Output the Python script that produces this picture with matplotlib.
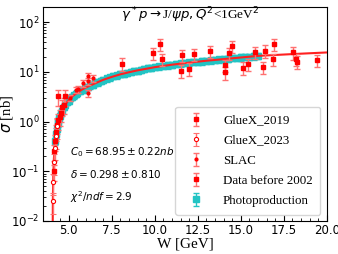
import numpy as np
import matplotlib.pyplot as plt
from matplotlib.ticker import AutoMinorLocator

plt.rcParams["mathtext.fontset"] = "dejavusans"

# fit curve
fit_w = [4.07, 4.08, 4.10, 4.13, 4.17, 4.2, 4.3, 4.4, 4.5, 4.6, 4.8, 5.0, 5.25, 5.5, 5.75,
         6.0, 6.5, 7.0, 7.5, 8.0, 8.5, 9.0, 9.5, 10, 11, 12, 13, 14, 15, 16, 17, 18, 19, 20]
fit_sigma = [0.01, 0.03, 0.08, 0.16, 0.28, 0.42, 0.75, 1.05, 1.35, 1.65, 2.2, 2.7, 3.3, 3.8, 4.35,
             4.85, 5.8, 6.9, 7.9, 8.9, 9.8, 10.7, 11.5, 12.4, 13.9, 15.3, 16.7, 18.0, 19.4, 20.9,
             21.8, 22.7, 23.6, 24.5]

# photoproduction
photo_w = [4.2, 4.25, 4.3, 4.35, 4.4, 4.45, 4.5, 4.55, 4.6, 4.7, 4.8, 4.9, 5.0, 5.1, 5.2, 5.3,
           5.4, 5.5, 5.65, 5.8, 5.95, 6.1, 6.25, 6.4, 6.55, 6.7, 6.85, 7.0, 7.2, 7.4, 7.6, 7.8,
           8.0, 8.2, 8.4, 8.6, 8.8, 9.0, 9.2, 9.4, 9.6, 9.8, 10.0, 10.25, 10.5, 10.75, 11.0,
           11.25, 11.5, 11.75, 12.0, 12.25, 12.5, 12.75, 13.0, 13.25, 13.5, 13.75, 14.0, 14.25,
           14.5, 14.75, 15.0, 15.25, 15.5, 15.75, 16.0]
photo_sigma = [0.40, 0.55, 0.72, 0.92, 1.02, 1.20, 1.32, 1.50, 1.62, 1.95, 2.15, 2.50, 2.62,
               2.95, 3.15, 3.35, 3.62, 3.75, 4.15, 4.40, 4.80, 4.95, 5.35, 5.55, 5.95, 6.15,
               6.60, 6.85, 7.35, 7.70, 8.20, 8.45, 8.95, 9.20, 9.65, 9.90, 10.4, 10.6, 11.1,
               11.3, 11.8, 12.0, 12.5, 12.8, 13.3, 13.5, 14.0, 14.2, 14.7, 14.9, 15.4, 15.6,
               16.1, 16.3, 16.8, 17.0, 17.5, 17.7, 18.2, 18.4, 18.9, 19.1, 19.6, 19.8, 20.3,
               20.5, 21.0]

gluex19_w = [4.12, 4.17, 4.22, 4.27, 4.33, 4.36, 4.40, 4.47, 4.55, 4.63, 4.72, 4.80]
gluex19_sigma = [0.10, 0.25, 0.40, 0.62, 0.85, 3.2, 1.05, 1.25, 1.5, 2.0, 2.2, 3.2]

gluex23_w = [4.08, 4.11, 4.15, 4.19, 4.24, 4.30]
gluex23_sigma = [0.025, 0.06, 0.15, 0.3, 0.5, 0.8]

slac_w = [5.1, 5.4, 5.55, 5.83, 6.12, 6.14, 6.14, 6.43]
slac_sigma = [3.0, 4.4, 4.5, 5.9, 6.4, 8.1, 3.7, 7.4]

old_w = [8.1, 9.88, 10.3, 10.4, 11.5, 11.6, 11.97, 12.26, 13.22, 14.1, 14.1, 14.3, 14.5,
         15.15, 15.4, 15.8, 16.3, 16.4, 16.85, 16.9, 18.02, 18.2, 18.27, 19.4]
old_sigma = [14.5, 23.6, 36, 18.2, 10.6, 21.9, 11.6, 22.6, 26.3, 13.8, 9.7, 23.6, 33,
             12.2, 14.2, 24.8, 12.4, 26.7, 17.9, 36, 24.5, 17.9, 16.1, 17.4]

fig = plt.figure(figsize=(3.38, 2.54), dpi=100)
ax = fig.add_axes([0.127, 0.13, 0.84, 0.842])

ebar = dict(ecolor="#ff7070", capsize=2, elinewidth=1, capthick=1, ls="none")

ax.plot(fit_w, fit_sigma, color="#ff2020", lw=1.5, zorder=3)

g19 = np.array(gluex19_sigma)
ax.errorbar(gluex19_w, gluex19_sigma, yerr=0.35 * g19, fmt="s", color="red", ms=2.5,
            label="GlueX_2019", zorder=4, **ebar)
g23 = np.array(gluex23_sigma)
ax.errorbar(gluex23_w, gluex23_sigma, yerr=0.45 * g23, fmt="o", color="red", ms=3,
            mfc="white", mew=0.8, label="GlueX_2023", zorder=4, **ebar)
sl = np.array(slac_sigma)
ax.errorbar(slac_w, slac_sigma, yerr=0.15 * sl, fmt="o", color="red", ms=2,
            label="SLAC", zorder=4, **ebar)
od = np.array(old_sigma)
ax.errorbar(old_w, old_sigma, yerr=0.28 * od, fmt="s", color="red", ms=3,
            label="Data before 2002", zorder=4, **ebar)
ph = np.array(photo_sigma)
ax.errorbar(photo_w, photo_sigma, yerr=0.14 * ph, fmt="s", color="#22c4c4", ms=4,
            ecolor="#22c4c4", capsize=2, elinewidth=1, ls="none",
            label="Photoproduction", zorder=2)

ax.set_yscale("log")
ax.set_xlim(3.5, 20)
ax.set_ylim(0.01, 200)
ax.xaxis.set_minor_locator(AutoMinorLocator(5))
ax.tick_params(which="both", direction="in", labelsize=8.5)
ax.tick_params(which="major", length=4, pad=2.5)
ax.tick_params(which="minor", length=2)

ax.set_xlabel("W [GeV]", family="Liberation Serif", fontsize=11, labelpad=0)
ax.set_ylabel(r"$\sigma$ [nb]", family="Liberation Serif", fontsize=10.5)
ax.yaxis.set_label_coords(-0.098, 0.5)

ax.text(0.52, 0.962, r"$\gamma^*p\rightarrow$J/$\psi p, Q^2$<1GeV$^2$",
        transform=ax.transAxes, ha="center", va="center", family="Liberation Serif",
        fontsize=9.5)
ax.text(0.095, 0.322, r"$C_0 = 68.95 \pm 0.22nb$", transform=ax.transAxes, va="center",
        fontsize=7.5)
ax.text(0.095, 0.22, r"$\delta = 0.298 \pm 0.810$", transform=ax.transAxes, va="center",
        fontsize=7.5)
ax.text(0.095, 0.112, r"$\chi^2/ndf = 2.9$", transform=ax.transAxes, va="center",
        fontsize=7.5)

ax.legend(loc="lower right", prop={"family": "Liberation Serif", "size": 9.3},
          labelspacing=0.62, handlelength=2, handletextpad=1.1, borderpad=0.6,
          borderaxespad=0.5)

fig.savefig("out.png", dpi=100)
